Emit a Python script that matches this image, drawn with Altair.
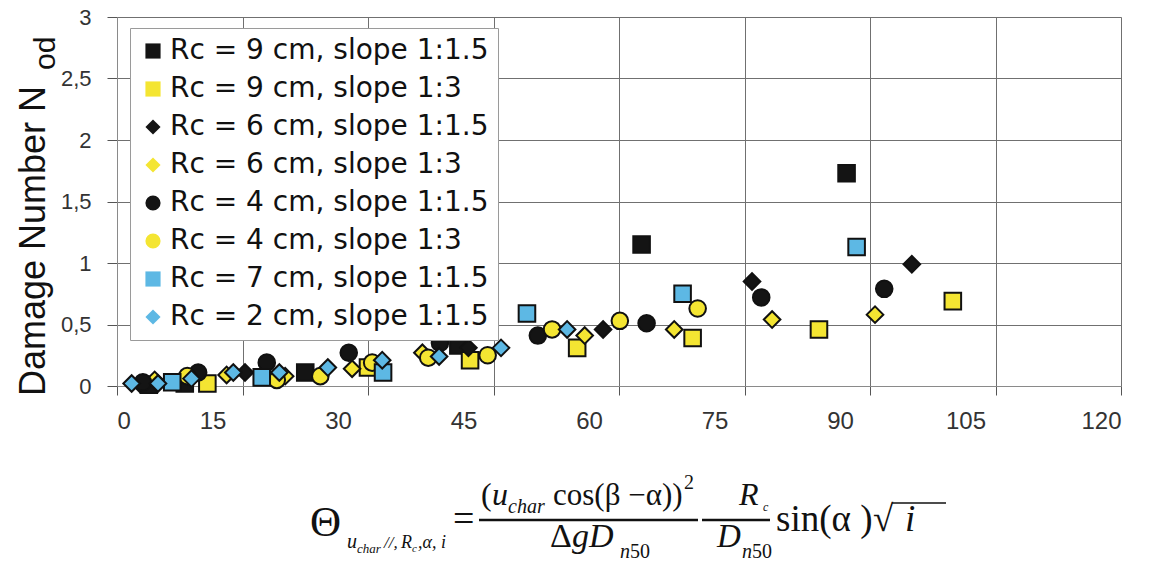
import altair as alt
import pandas as pd

# ---------------- data ----------------
series_names = [
    "Rc = 9 cm, slope 1:1.5",
    "Rc = 9 cm, slope 1:3",
    "Rc = 6 cm, slope 1:1.5",
    "Rc = 6 cm, slope 1:3",
    "Rc = 4 cm, slope 1:1.5",
    "Rc = 4 cm, slope 1:3",
    "Rc = 7 cm, slope 1:1.5",
    "Rc = 2 cm, slope 1:1.5",
]
series_shapes = ["square", "square", "diamond", "diamond", "circle", "circle", "square", "diamond"]
series_fills = ["#141414", "#f4e532", "#141414", "#f4e532", "#141414", "#f4e532", "#5db8e4", "#5db8e4"]

x_rc9_15 = [3.8, 8.1, 22.5, 40.8, 62.7, 87.2]
y_rc9_15 = [0.01, 0.02, 0.11, 0.33, 1.15, 1.73]
x_rc9_3 = [10.8, 30.0, 42.2, 55.0, 68.8, 83.9, 99.9]
y_rc9_3 = [0.02, 0.15, 0.21, 0.31, 0.39, 0.46, 0.69]
x_rc6_15 = [2.7, 15.3, 42.0, 58.1, 75.9, 95.0]
y_rc6_15 = [0.02, 0.11, 0.31, 0.46, 0.85, 0.99]
x_rc6_3 = [4.5, 13.1, 20.1, 28.1, 36.5, 55.9, 66.6, 78.3, 90.6]
y_rc6_3 = [0.05, 0.09, 0.08, 0.14, 0.27, 0.41, 0.46, 0.54, 0.58]
x_rc4_15 = [3.1, 9.7, 17.9, 27.7, 38.6, 50.3, 63.3, 77.0, 91.7]
y_rc4_15 = [0.03, 0.11, 0.19, 0.27, 0.35, 0.41, 0.51, 0.72, 0.79]
x_rc4_3 = [8.4, 19.1, 24.3, 30.5, 37.2, 44.3, 52.0, 60.1, 69.4]
y_rc4_3 = [0.08, 0.05, 0.08, 0.19, 0.23, 0.25, 0.46, 0.53, 0.63]
x_rc7_15 = [6.6, 17.3, 31.8, 49.0, 67.6, 88.4]
y_rc7_15 = [0.03, 0.07, 0.11, 0.59, 0.75, 1.13]
x_rc2_15 = [1.75, 4.9, 8.9, 13.9, 19.4, 25.2, 31.7, 38.5, 45.9, 53.8]
y_rc2_15 = [0.02, 0.02, 0.06, 0.11, 0.11, 0.15, 0.21, 0.24, 0.31, 0.46]

x_ticks = [0, 15, 30, 45, 60, 75, 90, 105, 120]
y_ticks = [0, 0.5, 1, 1.5, 2, 2.5, 3]

all_x = [x_rc9_15, x_rc9_3, x_rc6_15, x_rc6_3, x_rc4_15, x_rc4_3, x_rc7_15, x_rc2_15]
all_y = [y_rc9_15, y_rc9_3, y_rc6_15, y_rc6_3, y_rc4_15, y_rc4_3, y_rc7_15, y_rc2_15]

rows = []
for order, (name, xs, ys) in enumerate(zip(series_names, all_x, all_y)):
    for xv, yv in zip(xs, ys):
        rows.append({"series": name, "x": xv, "y": yv, "order": order})
df = pd.DataFrame(rows)

# ---------------- layout ----------------
PW, PH = 1004, 369          # plot area
OX, OY = 117, 17            # plot origin in page coordinates

legend_cfg = dict(
    orient="none", legendX=13, legendY=11, title=None,
    fillColor="white", strokeColor="#9a9a9a", padding=9,
    labelFont="DejaVu Sans", labelFontSize=28, labelColor="#111111",
    labelOffset=3, symbolSize=230, symbolStrokeWidth=1.6,
    symbolStrokeColor="#111111", rowPadding=10, labelLimit=600,
)

points = alt.Chart(df).mark_point(filled=True, size=275, stroke="#111111",
                                   strokeWidth=2, opacity=1).encode(
    x=alt.X("x:Q", scale=alt.Scale(domain=[0, 120], nice=False, zero=False),
            axis=alt.Axis(values=x_ticks, title=None, grid=True,
                          labelFont="Liberation Sans", labelFontSize=24,
                          labelColor="#333333", labelPadding=14, tickSize=9,
                          labelOffset={"condition": {"test": "datum.value > 0 && datum.value < 120",
                                                     "value": -30}, "value": 0},
                          tickColor="#555555", domainColor="#8a8a8a",
                          gridColor="#707070", gridWidth=1)),
    y=alt.Y("y:Q", scale=alt.Scale(domain=[0, 3], nice=False),
            axis=alt.Axis(values=y_ticks, title=None, grid=True,
                          labelExpr="replace(toString(datum.value), '.', ',')",
                          labelFont="Liberation Sans", labelFontSize=22,
                          labelColor="#333333", labelPadding=16, tickSize=10,
                          tickColor="#555555", domainColor="#8a8a8a",
                          gridColor="#707070", gridWidth=1)),
    shape=alt.Shape("series:N", scale=alt.Scale(domain=series_names, range=series_shapes),
                    legend=alt.Legend(**legend_cfg)),
    fill=alt.Fill("series:N", scale=alt.Scale(domain=series_names, range=series_fills),
                  legend=alt.Legend(**legend_cfg)),
    order=alt.Order("order:Q"),
)

one = alt.Data(values=[{"k": 1}])


def txt(s, px, py, size, italic=False, font="Liberation Serif", angle=0, color="#111111"):
    kw = dict(text=s, font=font, fontSize=size, align="left", baseline="alphabetic",
              color=color)
    if italic:
        kw["fontStyle"] = "italic"
    if angle:
        kw["angle"] = angle
    return alt.Chart(one).mark_text(**kw).encode(
        x=alt.value(px - OX), y=alt.value(py - OY))


def bar(px1, px2, py, w=2.5):
    return alt.Chart(one).mark_rule(color="#111111", strokeWidth=w).encode(
        x=alt.value(px1 - OX), x2=alt.value(px2 - OX), y=alt.value(py - OY))


annotations = [
    # y-axis title with subscript
    txt("Damage Number N", 45, 396, 36, font="Liberation Sans", angle=270),
    txt("od", 55, 70, 30, font="Liberation Sans", angle=270),
    # formula
    txt("Θ", 310, 536, 43),
    txt("u", 347, 548, 20, italic=True),
    txt("char", 357, 553, 13, italic=True),
    txt("//,", 384, 548, 17, italic=True),
    txt("R", 401, 548, 18, italic=True),
    txt("c", 412, 552, 11, italic=True),
    txt(",α, i", 418, 548, 18, italic=True),
    txt("=", 453, 531, 38),
    txt("(", 481, 505, 32),
    txt("u", 492, 505, 32, italic=True),
    txt("char", 508, 513, 20, italic=True),
    txt("cos(β −α))", 553, 505, 31),
    txt("2", 684, 489, 20),
    bar(479, 698, 520),
    txt("Δ", 550, 547, 34),
    txt("gD", 572, 547, 34, italic=True),
    txt("n", 620, 558, 20, italic=True),
    txt("50", 630, 558, 20),
    txt("R", 739, 505, 32, italic=True),
    txt("c", 763, 511, 12, italic=True),
    bar(702, 770, 520),
    txt("D", 717, 547, 33, italic=True),
    txt("n", 742, 558, 20, italic=True),
    txt("50", 752, 558, 20),
    txt("sin(α )", 776, 531, 37),
    txt("√", 873, 531, 37),
    txt("i", 905, 531, 37, italic=True),
    bar(892, 946, 503, 1.5),
]

chart = alt.layer(points, *annotations).properties(
    width=PW, height=PH,
    autosize=alt.AutoSizeParams(type="none"),
    padding={"left": OX - 8, "top": OY - 8, "right": 1150 - 16 - PW - (OX - 8),
             "bottom": 572 - 16 - PH - (OY - 8)},
).configure_view(fill="#c5c6c8", stroke=None).configure(background="white")

chart.save("out.html", embed_options={"renderer": "svg", "actions": False})
